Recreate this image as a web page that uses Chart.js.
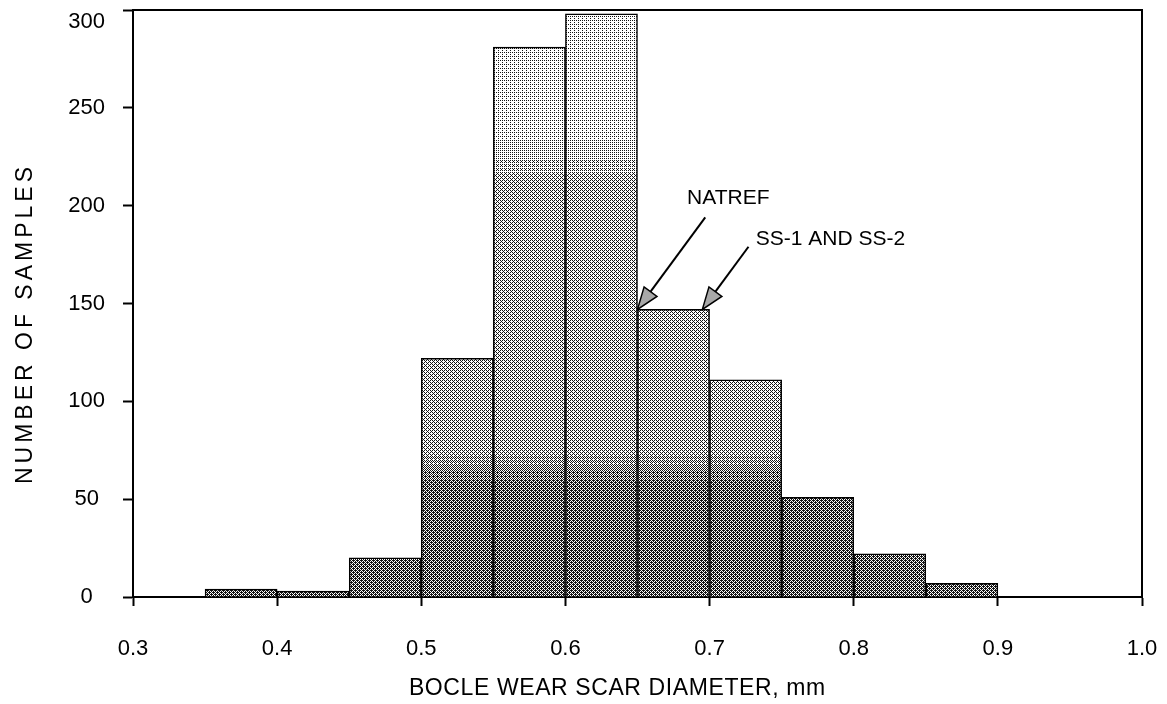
<!DOCTYPE html>
<html>
<head>
<meta charset="utf-8">
<script src="https://cdn.jsdelivr.net/npm/chart.js@4.4.1/dist/chart.umd.min.js"></script>
<style>
  html, body { margin: 0; padding: 0; background: #fff; }
  #wrap { width: 1167px; height: 704px; }
</style>
</head>
<body>
<div id="wrap"><canvas id="histChart" width="1167" height="704"></canvas></div>
<script>
// histogram bins (centre of each 0.05 mm bin) and counts
const binCenters = [0.375, 0.425, 0.475, 0.525, 0.575, 0.625, 0.675, 0.725, 0.775, 0.825, 0.875];
const sampleCounts = [4, 3, 20, 122, 281, 298, 147, 111, 51, 22, 7];

const xMin = 0.3, xMax = 1.0, xStep = 0.1;
const yMin = 0, yMax = 300, yStep = 50;

const xTitle = "BOCLE WEAR SCAR DIAMETER, mm";
const yTitle = "NUMBER OF SAMPLES";

// arrow notes, in data units
const noteText = ["NATREF", "SS-1 AND SS-2"];
const noteTipX = [0.650, 0.695];
const noteTipY = [147, 147];
const noteTailX = [0.697, 0.727];
const noteTailY = [194, 179];
const noteTextX = [0.713, 0.732];
const noteTextY = [204, 183];
const noteAlign = ["center", "left"];

const fontFamily = "'Liberation Sans', Arial, sans-serif";

// 4x4 ordered dither matrix, used to fake the stippled print shading
const bayer = [
  [0, 8, 2, 10],
  [12, 4, 14, 6],
  [3, 11, 1, 9],
  [15, 7, 13, 5]
];

// darker band near the base, medium body, light tops of the tall bins
function shadeFor(v) {
  if (v <= 60) return 0.6;
  if (v <= 75) return 0.6 - (v - 60) / 15 * 0.24;
  if (v <= 215) return 0.36;
  if (v <= 240) return 0.36 - (v - 215) / 25 * 0.2;
  return 0.16;
}

let stipple = "#999";
function buildStipple(chart) {
  const c = document.createElement("canvas");
  c.width = chart.width;
  c.height = chart.height;
  const g = c.getContext("2d");
  const img = g.createImageData(c.width, c.height);
  const ys = chart.scales.y;
  for (let py = 0; py < c.height; py++) {
    const d = shadeFor(ys.getValueForPixel(py));
    for (let px = 0; px < c.width; px++) {
      const t = (bayer[py % 4][px % 4] + 0.5) / 16;
      const k = t < d ? 20 : 255;
      const i = (py * c.width + px) * 4;
      img.data[i] = k; img.data[i + 1] = k; img.data[i + 2] = k; img.data[i + 3] = 255;
    }
  }
  g.putImageData(img, 0, 0);
  stipple = chart.ctx.createPattern(c, "no-repeat");
}

const stipplePlugin = {
  id: "stipple",
  afterLayout(chart) {
    buildStipple(chart);
  }
};

const framePlugin = {
  id: "frame",
  afterDraw(chart) {
    const { ctx, chartArea } = chart;
    const ys = chart.scales.y;
    ctx.save();
    ctx.strokeStyle = "#000";
    ctx.lineWidth = 2;
    ctx.beginPath();
    ctx.moveTo(chartArea.left, chartArea.top);
    ctx.lineTo(chartArea.right, chartArea.top);
    ctx.lineTo(chartArea.right, chartArea.bottom);
    ctx.stroke();

    ctx.fillStyle = "#000";
    ctx.textBaseline = "middle";

    // top tick label sits a little below its tick in the original
    ctx.font = "22px " + fontFamily;
    ctx.textAlign = "center";
    const w = ctx.measureText(String(yMax)).width;
    ctx.fillText(String(yMax), ys.right - 10 - 18 - w / 2, ys.getPixelForValue(yMax) + 12);

    // axis titles (the scan is a bit stretched, so letters are spaced out)
    ctx.font = "23px " + fontFamily;
    ctx.letterSpacing = "0.6px";
    ctx.fillText(xTitle, chartArea.left + (chartArea.right - chartArea.left) * 0.48, 689);

    ctx.save();
    ctx.translate(26, (chartArea.top + chartArea.bottom) / 2 + 20);
    ctx.rotate(-Math.PI / 2);
    ctx.letterSpacing = "4px";
    ctx.fillText(yTitle, 0, 0);
    ctx.restore();
    ctx.restore();
  }
};

const notesPlugin = {
  id: "notes",
  afterDatasetsDraw(chart) {
    const { ctx } = chart;
    const xs = chart.scales.x, ys = chart.scales.y;
    ctx.save();
    for (let i = 0; i < noteText.length; i++) {
      const tx = xs.getPixelForValue(noteTipX[i]);
      const ty = ys.getPixelForValue(noteTipY[i]);
      const sx = xs.getPixelForValue(noteTailX[i]);
      const sy = ys.getPixelForValue(noteTailY[i]);
      const len = Math.hypot(tx - sx, ty - sy);
      const ux = (tx - sx) / len, uy = (ty - sy) / len;
      const headL = 22, headW = 8;
      const bx = tx - ux * headL, by = ty - uy * headL;

      ctx.strokeStyle = "#000";
      ctx.lineWidth = 2;
      ctx.beginPath();
      ctx.moveTo(sx, sy);
      ctx.lineTo(bx, by);
      ctx.stroke();

      ctx.beginPath();
      ctx.moveTo(tx, ty);
      ctx.lineTo(bx - uy * headW, by + ux * headW);
      ctx.lineTo(bx + uy * headW, by - ux * headW);
      ctx.closePath();
      ctx.fillStyle = "#a8a8a8";
      ctx.fill();
      ctx.lineWidth = 1.5;
      ctx.stroke();

      ctx.font = "21px " + fontFamily;
      ctx.fillStyle = "#000";
      ctx.textAlign = noteAlign[i];
      ctx.textBaseline = "middle";
      ctx.fillText(noteText[i], xs.getPixelForValue(noteTextX[i]), ys.getPixelForValue(noteTextY[i]));
    }
    ctx.restore();
  }
};

const points = binCenters.map((x, i) => ({ x, y: sampleCounts[i] }));

new Chart(document.getElementById("histChart"), {
  type: "bar",
  data: {
    datasets: [{
      data: points,
      backgroundColor: () => stipple,
      borderColor: "#000",
      borderWidth: 1.5,
      barPercentage: 1,
      categoryPercentage: 1
    }]
  },
  options: {
    responsive: false,
    animation: false,
    devicePixelRatio: 1,
    layout: { padding: { top: 10, right: 25, left: 0, bottom: 0 } },
    plugins: {
      legend: { display: false },
      tooltip: { enabled: false }
    },
    scales: {
      x: {
        type: "linear",
        min: xMin,
        max: xMax,
        offset: false,
        afterFit: s => { s.height = 107; s.paddingLeft = 0; s.paddingRight = 0; },
        ticks: {
          stepSize: xStep,
          color: "#000",
          padding: 30,
          font: { family: fontFamily, size: 22 },
          callback: v => v.toFixed(1)
        },
        grid: {
          offset: false,
          drawOnChartArea: false,
          tickLength: 9,
          tickWidth: 2,
          tickColor: "#000"
        },
        border: { display: true, color: "#000", width: 2 },
        title: { display: false }
      },
      y: {
        min: yMin,
        max: yMax,
        afterFit: s => { s.width = 133; s.paddingTop = 0; s.paddingBottom = 0; },
        ticks: {
          stepSize: yStep,
          color: "#000",
          padding: 18,
          crossAlign: "center",
          font: { family: fontFamily, size: 22 },
          callback: v => (v === yMax ? "" : v)
        },
        grid: {
          drawOnChartArea: false,
          tickLength: 10,
          tickWidth: 2,
          tickColor: "#000"
        },
        border: { display: true, color: "#000", width: 2 },
        title: { display: false }
      }
    }
  },
  plugins: [stipplePlugin, framePlugin, notesPlugin]
});
</script>
</body>
</html>
